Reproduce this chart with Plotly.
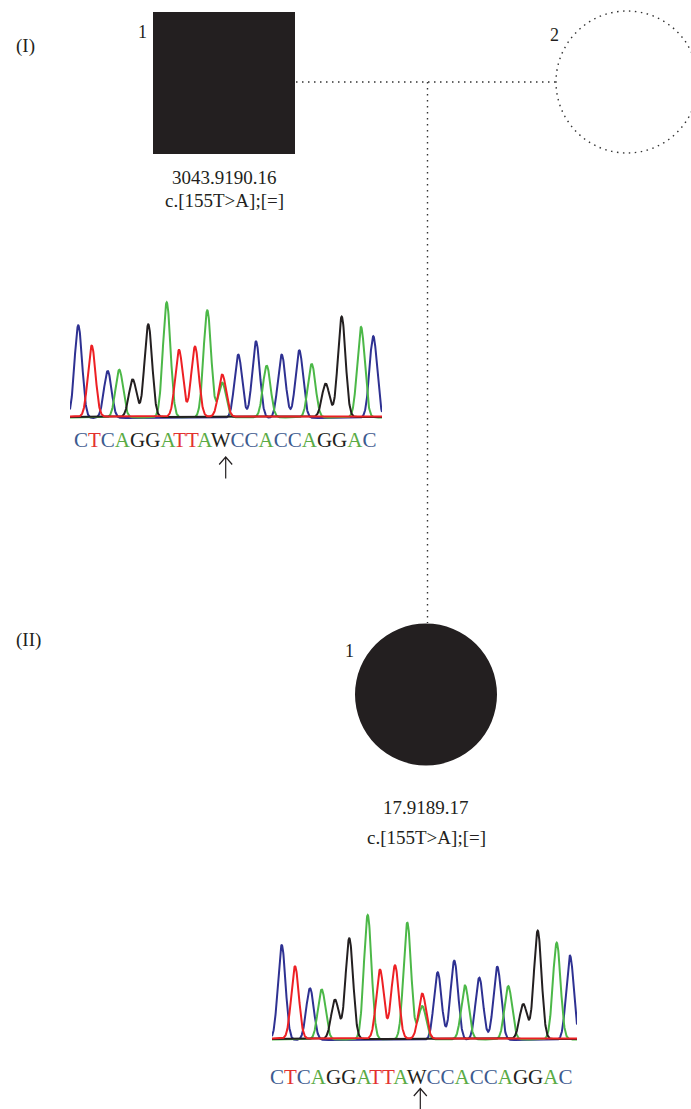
import numpy as np
import plotly.graph_objects as go

W, H = 691, 1109

# ---------------- data ----------------
generation_labels = ["(I)", "(II)"]
sample_ids = ["3043.9190.16", "17.9189.17"]
genotypes = ["c.[155T>A];[=]", "c.[155T>A];[=]"]
individual_numbers = ["1", "2", "1"]
sequence = "CTCAGGATTAWCCACCAGGAC"

# chromatogram peaks: channel (base), position (scan units), height (signal units)
chrom1_channel = ["C", "T", "C", "A", "G", "G", "A", "T", "T", "A", "T", "A",
                  "C", "C", "A", "C", "C", "A", "G", "G", "A", "C"]
chrom1_pos = [8.3, 21.7, 37.7, 49.3, 62.7, 78.3, 96.7, 109, 125, 137.3, 152.3, 152.3,
              168.3, 186, 196.7, 211.7, 229.3, 241.7, 255.7, 271.7, 291, 303.3]
chrom1_height = [92.7, 71, 47, 47.7, 37.7, 92.7, 115, 66.7, 70, 107, 42, 34.7,
                 63.4, 76.7, 51.7, 63.4, 67.7, 53.4, 33.4, 100.4, 90.4, 81.7]

chrom2_channel = chrom1_channel
chrom2_pos = [9.7, 23, 38, 49.7, 63, 77.3, 95.7, 108, 123, 135.3, 150.3, 150.3,
              165.7, 182.3, 193, 207.3, 225.3, 236.3, 251.3, 265.7, 284.7, 298]
chrom2_height = [95, 72.3, 51.7, 50, 39.3, 100.7, 124.3, 69, 73.3, 116.7, 45, 33.3,
                 67.7, 79.3, 54, 62.3, 73.3, 53.3, 35, 108.3, 96.7, 84.3]

# ---------------- styles ----------------
trace_colors = {"C": "#2e3192", "T": "#ed2024", "A": "#4cb848", "G": "#231f20"}
baseline_offset = {"C": 0.0, "A": 0.6, "G": 1.0, "T": 1.4}
text_colors = {"C": "#3d5b8f", "T": "#e3322f", "A": "#5aab45", "G": "#231f20", "W": "#231f20"}
SERIF = "Liberation Serif, Times New Roman, serif"
INK = "#231f20"
DOT = "1.5px,4.5px"

fig = go.Figure()


def add_chromatogram(channels, pos, heights, xmax, xa, ya):
    xs = np.arange(0, xmax + 0.25, 0.25)
    sigma = 3.8
    for ch in ["C", "A", "G", "T"]:
        ys = np.full_like(xs, baseline_offset[ch])
        for c, p, h in zip(channels, pos, heights):
            if c == ch:
                ys = ys + h * np.exp(-((xs - p) ** 2) / (2 * sigma ** 2))
        fig.add_trace(go.Scatter(x=xs, y=ys, mode="lines", xaxis=xa, yaxis=ya,
                                 line=dict(color=trace_colors[ch], width=2),
                                 hoverinfo="skip", showlegend=False))


add_chromatogram(chrom1_channel, chrom1_pos, chrom1_height, 312, "x2", "y2")
add_chromatogram(chrom2_channel, chrom2_pos, chrom2_height, 305, "x3", "y3")

shapes = []
# faint chromatogram backgrounds
for xr, yr in [("x2 domain", "y2 domain"), ("x3 domain", "y3 domain")]:
    shapes.append(dict(type="rect", xref=xr, yref=yr, x0=0, x1=1, y0=0.02, y1=1,
                       fillcolor="#f8f8f8", line=dict(width=0), layer="below"))

# pedigree symbols
shapes.append(dict(type="rect", xref="x", yref="y", x0=153, x1=295, y0=12, y1=154,
                   fillcolor=INK, line=dict(width=0)))
shapes.append(dict(type="circle", xref="x", yref="y", x0=556, x1=698, y0=11, y1=153,
                   fillcolor="rgba(0,0,0,0)", line=dict(color="#333333", width=1.4, dash=DOT)))
shapes.append(dict(type="circle", xref="x", yref="y", x0=355, x1=497, y0=623.5, y1=765.5,
                   fillcolor=INK, line=dict(width=0)))
# mating line and descent line
shapes.append(dict(type="line", xref="x", yref="y", x0=296, x1=556, y0=82, y1=82,
                   line=dict(color="#333333", width=1.4, dash=DOT)))
shapes.append(dict(type="line", xref="x", yref="y", x0=427.5, x1=427.5, y0=82, y1=623,
                   line=dict(color="#333333", width=1.4, dash=DOT)))
# arrows marking the variant
for ax, top, bot in [(225.7, 457, 478.5), (420.3, 1088.5, 1110)]:
    shapes.append(dict(type="path", xref="x", yref="y",
                       path=f"M {ax-6.5} {top+7.5} L {ax} {top} L {ax+6.5} {top+7.5} M {ax} {top} L {ax} {bot}",
                       line=dict(color=INK, width=1.2)))

annotations = []


def txt(s, x, y, size):
    annotations.append(dict(text=s, x=x, y=y, xref="x", yref="y", showarrow=False,
                            xanchor="center", yanchor="middle",
                            font=dict(family=SERIF, size=size, color=INK)))


txt(generation_labels[0], 25, 46, 19)
txt(generation_labels[1], 28, 640, 19)
txt(individual_numbers[0], 142, 32, 18)
txt(individual_numbers[1], 554, 35, 18)
txt(individual_numbers[2], 349, 651, 18)
txt(sample_ids[0], 224, 177, 19)
txt(genotypes[0], 224, 200, 19)
txt(sample_ids[1], 426, 807, 19)
txt(genotypes[1], 426, 837, 19)

seq_html = "".join(f'<span style="color:{text_colors[b]}">{b}</span>' for b in sequence)
txt(seq_html, 225, 440, 21)
txt(seq_html, 421, 1077, 21)

fig.update_layout(
    width=W, height=H, margin=dict(l=0, r=0, t=0, b=0),
    paper_bgcolor="white", plot_bgcolor="white",
    shapes=shapes, annotations=annotations, showlegend=False,
    xaxis=dict(domain=[0, 1], range=[0, W], visible=False, fixedrange=True),
    yaxis=dict(domain=[0, 1], range=[H, 0], visible=False, fixedrange=True),
    xaxis2=dict(domain=[70 / W, 382 / W], range=[0, 312], anchor="y2", visible=False),
    yaxis2=dict(domain=[(H - 422) / H, (H - 294) / H], range=[-4, 124], anchor="x2", visible=False),
    xaxis3=dict(domain=[272 / W, 577 / W], range=[0, 305], anchor="y3", visible=False),
    yaxis3=dict(domain=[(H - 1044) / H, (H - 903) / H], range=[-4, 137], anchor="x3", visible=False),
)

fig.write_html("out.html", config={"displayModeBar": False},
               post_script="document.body.style.margin='0';document.body.style.overflow='hidden';")
